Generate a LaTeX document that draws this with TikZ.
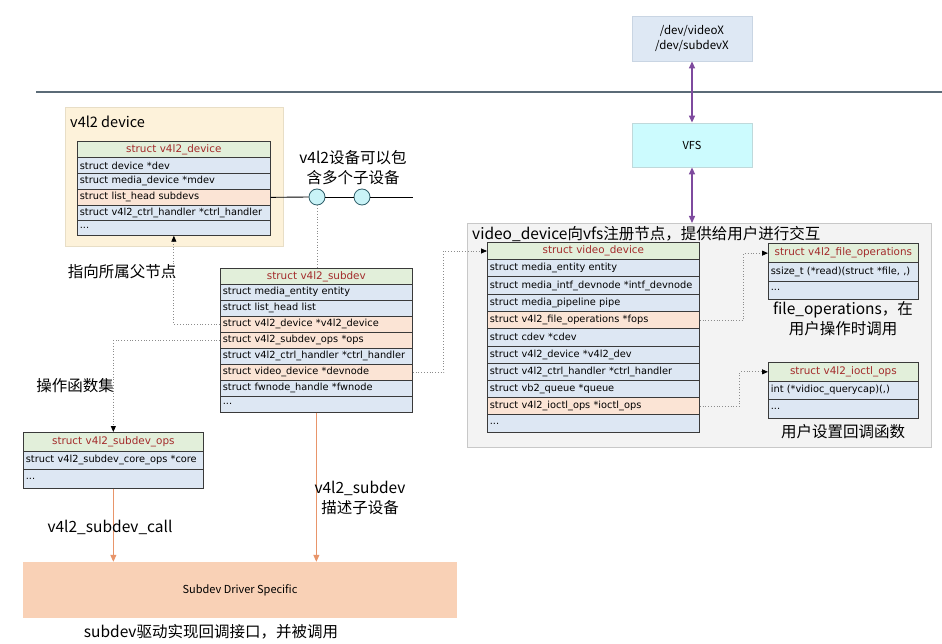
\documentclass[tikz,border=0pt]{standalone}
\usepackage{fontspec}
\newfontfamily\cjk{Noto Sans CJK SC}
\newfontfamily\rowf{DejaVu Sans}
\usetikzlibrary{arrows.meta,calc}
\definecolor{hdrg}{HTML}{E2EFDA}
\definecolor{rowb}{HTML}{DDE7F3}
\definecolor{rowo}{HTML}{FBE4D5}
\definecolor{hdrtxt}{HTML}{A32B2B}
\definecolor{tblc}{HTML}{3A3A3A}
\definecolor{beigef}{HTML}{FDF2DA}
\definecolor{beiged}{HTML}{E8DEC6}
\definecolor{grayf}{HTML}{F3F3F3}
\definecolor{grayd}{HTML}{C8C8C8}
\definecolor{devf}{HTML}{DEE8F4}
\definecolor{devd}{HTML}{C9D5E3}
\definecolor{vfsf}{HTML}{CCFBFE}
\definecolor{vfsd}{HTML}{BFD9DB}
\definecolor{drvf}{HTML}{F9D1B6}
\definecolor{orng}{HTML}{E8956A}
\definecolor{purp}{HTML}{7E4A9E}
\definecolor{dotgray}{HTML}{8C8C8C}
\definecolor{hline}{HTML}{5B6B77}
\definecolor{circf}{HTML}{C9F3F7}
\definecolor{circd}{HTML}{2F5F6A}
\tikzset{
  trow/.style={draw=tblc, line width=0.7pt, anchor=north west, inner xsep=2.5pt, inner ysep=0pt, align=left, font=\rowf\fontsize{9.8}{11}\selectfont},
  thdr/.style={trow, align=center, text=hdrtxt, font=\rowf\fontsize{10.4}{12}\selectfont},
  lbl/.style={font=\cjk\fontsize{15.5}{20}\selectfont, inner sep=0pt, align=center},
  dotc/.style={draw=dotgray, dotted, line width=0.8pt},
  dotarr/.style={dotc, -{Triangle[length=6pt,width=5pt,black]}},
  oarr/.style={draw=orng, line width=1pt, -{Triangle[length=7pt,width=6pt]}},
  parr/.style={draw=purp, line width=1.3pt, {Triangle[length=7pt,width=6pt]}-{Triangle[length=7pt,width=6pt]}},
  circ/.style={circle, draw=circd, fill=circf, line width=0.8pt, minimum size=16pt, inner sep=0pt},
}
\newcommand\tabrow[8]{%
  \pgfmathsetmacro\tabtw{#5-5}%
  \node[#1, fill=#7, minimum width=#5pt, minimum height=#6pt, text width=\tabtw pt] (#2) at (#3,#4) {\mbox{#8}};}
\begin{document}
\begin{tikzpicture}[x=1pt,y=-1pt]
\fill[white] (0,0) rectangle (942,644);
\useasboundingbox (0,0) rectangle (942,644);

% horizontal separator
\coordinate (hl1) at (36,92);
\coordinate (hl2) at (942,92);
\draw[hline, line width=1.2pt] (hl1) -- (hl2);

% top boxes
\node[draw=devd, fill=devf, line width=0.8pt, minimum width=120pt, minimum height=45pt, align=center, font=\cjk\fontsize{11.5}{15}\selectfont] (devx) at (692,38.5) {/dev/videoX\\/dev/subdevX};
\node[draw=vfsd, fill=vfsf, line width=0.8pt, minimum width=120pt, minimum height=44pt, font=\cjk\fontsize{11}{13}\selectfont] (vfs) at (692,145) {VFS};

% outer boxes
\node[draw=beiged, fill=beigef, line width=1pt, minimum width=218pt, minimum height=139pt, anchor=north west] (v4l2out) at (65,107) {};
\node[lbl, anchor=west, font=\cjk\fontsize{14.5}{18}\selectfont] (v4l2lbl) at (70,122) {v4l2 device};
\node[draw=grayd, fill=grayf, line width=1pt, minimum width=464pt, minimum height=224pt, anchor=north west] (vdout) at (467,223) {};
\node[lbl, anchor=west] (vdlbl) at (472,234) {video\_device向vfs注册节点，提供给用户进行交互};

% driver box
\node[fill=drvf, minimum width=434pt, minimum height=56pt, font=\cjk\fontsize{11}{13}\selectfont] (drv) at (240,590) {Subdev Driver Specific};

% v4l2_device table
\tabrow{thdr}{dh}{77}{141}{193}{16}{hdrg}{struct v4l2\_device}
\tabrow{trow}{d1}{77}{157}{193}{16}{rowb}{struct device *dev}
\tabrow{trow}{d2}{77}{173}{193}{16}{rowb}{struct media\_device *mdev}
\tabrow{trow}{d3}{77}{189}{193}{16}{rowo}{struct list\_head subdevs}
\tabrow{trow}{d4}{77}{205}{193}{15}{rowb}{struct v4l2\_ctrl\_handler *ctrl\_handler}
\tabrow{trow}{d5}{77}{220}{193}{15}{rowb}{...}

% v4l2_subdev table
\tabrow{thdr}{sh}{220}{268}{192}{16}{hdrg}{struct v4l2\_subdev}
\tabrow{trow}{s1}{220}{284}{192}{16}{rowb}{struct media\_entity entity}
\tabrow{trow}{s2}{220}{300}{192}{16}{rowb}{struct list\_head list}
\tabrow{trow}{s3}{220}{316}{192}{16}{rowo}{struct v4l2\_device *v4l2\_device}
\tabrow{trow}{s4}{220}{332}{192}{16}{rowo}{struct v4l2\_subdev\_ops *ops}
\tabrow{trow}{s5}{220}{348}{192}{16}{rowb}{struct v4l2\_ctrl\_handler *ctrl\_handler}
\tabrow{trow}{s6}{220}{364}{192}{16}{rowo}{struct video\_device *devnode}
\tabrow{trow}{s7}{220}{380}{192}{16}{rowb}{struct fwnode\_handle *fwnode}
\tabrow{trow}{s8}{220}{396}{192}{16}{rowb}{...}

% v4l2_subdev_ops table
\tabrow{thdr}{oh}{23}{432}{180}{18.5}{hdrg}{struct v4l2\_subdev\_ops}
\tabrow{trow}{o1}{23}{450.5}{180}{18.5}{rowb}{struct v4l2\_subdev\_core\_ops *core}
\tabrow{trow}{o2}{23}{469}{180}{19}{rowb}{...}

% video_device table
\tabrow{thdr}{vh}{487}{242}{212}{17.3}{hdrg}{struct video\_device}
\tabrow{trow}{v1}{487}{259.3}{212}{17.2}{rowb}{struct media\_entity entity}
\tabrow{trow}{v2}{487}{276.5}{212}{17.3}{rowb}{struct media\_intf\_devnode *intf\_devnode}
\tabrow{trow}{v3}{487}{293.8}{212}{17.2}{rowb}{struct media\_pipeline pipe}
\tabrow{trow}{v4}{487}{311}{212}{17.2}{rowo}{struct v4l2\_file\_operations *fops}
\tabrow{trow}{v5}{487}{328.2}{212}{17.3}{rowb}{struct cdev *cdev}
\tabrow{trow}{v6}{487}{345.5}{212}{17.2}{rowb}{struct v4l2\_device *v4l2\_dev}
\tabrow{trow}{v7}{487}{362.7}{212}{17.2}{rowb}{struct v4l2\_ctrl\_handler *ctrl\_handler}
\tabrow{trow}{v8}{487}{379.9}{212}{17.3}{rowb}{struct vb2\_queue *queue}
\tabrow{trow}{v9}{487}{397.2}{212}{17.2}{rowo}{struct v4l2\_ioctl\_ops *ioctl\_ops}
\tabrow{trow}{v10}{487}{414.4}{212}{17.3}{rowb}{...}

% file_operations table
\tabrow{thdr}{fh}{768}{243.3}{150}{19}{hdrg}{struct v4l2\_file\_operations}
\tabrow{trow}{f1}{768}{262.3}{150}{18.4}{rowb}{ssize\_t (*read)(struct *file, ,)}
\tabrow{trow}{f2}{768}{280.7}{150}{18.6}{rowb}{...}

% ioctl_ops table
\tabrow{thdr}{ih}{768}{362.3}{150}{18.4}{hdrg}{struct v4l2\_ioctl\_ops}
\tabrow{trow}{i1}{768}{380.7}{150}{18.6}{rowb}{int (*vidioc\_querycap)(,)}
\tabrow{trow}{i2}{768}{399.3}{150}{18.4}{rowb}{...}

% subdevs list with circles
\node[circ] (c1) at (317,197) {};
\node[circ] (c2) at (362,197) {};
\coordinate (lend) at (413,197);
\draw[line width=0.9pt] (d3.east) -- (c1.west);
\draw[line width=0.9pt] (c1.east) -- (c2.west);
\draw[line width=0.9pt] (c2.east) -- (lend);
\draw[dotc] (c1.south) -- (c1.south |- sh.north);

% dotted connectors
\draw[dotarr] (s3.west) -| (d5.south);
\draw[dotarr] (s4.west) -| (oh.north);
\draw[dotarr] (s6.east) -- ++(31,0) |- (vh.west);
\draw[dotarr] (v4.east) -- ++(44,0) |- (fh.west);
\draw[dotarr] (v9.east) -- ++(40,0) |- (ih.west);

% orange arrows
\draw[oarr] (o2.south) -- (o2.south |- drv.north);
\draw[oarr] (s8.south) -- (s8.south |- drv.north);

% purple arrows
\draw[parr] (devx.south) -- (vfs.north);
\draw[parr] (vfs.south) -- (vfs.south |- vdout.north);

% labels
\node[lbl] (lblmulti) at (353,168) {v4l2设备可以包\\含多个子设备};
\node[lbl] (lblparent) at (122,272) {指向所属父节点};
\node[lbl] (lblops) at (75,386) {操作函数集};
\node[lbl] (lblsub) at (360,498) {v4l2\_subdev\\描述子设备};
\node[lbl] (lblcall) at (110,527) {v4l2\_subdev\_call};
\node[lbl] (lbldrv) at (211,632) {subdev驱动实现回调接口，并被调用};
\node[lbl] (lblfops) at (843,319) {file\_operations，在\\用户操作时调用};
\node[lbl] (lblioctl) at (843,432) {用户设置回调函数};
\end{tikzpicture}
\end{document}
